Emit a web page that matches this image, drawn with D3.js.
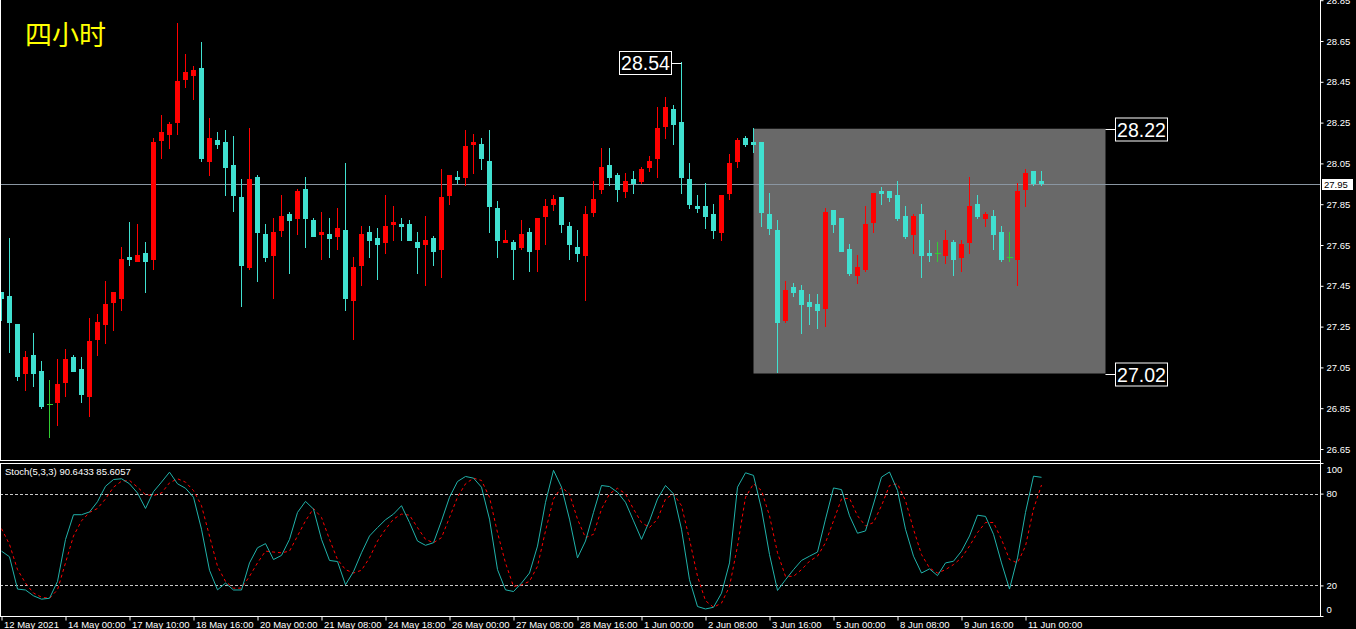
<!DOCTYPE html>
<html><head><meta charset="utf-8">
<script src="https://cdn.jsdelivr.net/npm/d3@7"></script>
<style>body{margin:0;background:#000;overflow:hidden}svg{display:block}</style>
</head><body>
<svg id="c" width="1356" height="629"></svg>
<script>
// ---- DATA ----
const opens = [27.420,27.400,27.263,27.019,27.111,27.032,26.869,26.877,26.975,27.101,
27.042,26.906,27.186,27.259,27.367,27.387,27.591,27.568,27.611,27.578,
28.161,28.191,28.250,28.460,28.480,28.518,28.058,28.165,28.155,28.042,
27.885,27.539,27.983,27.704,27.598,27.720,27.802,27.779,27.925,27.773,
27.701,27.704,27.691,27.724,27.377,27.549,27.714,27.684,27.661,27.750,
27.753,27.753,27.665,27.652,27.684,27.627,27.892,27.983,27.980,28.142,
28.145,28.062,27.831,27.662,27.665,27.635,27.714,27.626,27.787,27.846,
27.885,27.743,27.640,27.596,27.807,27.920,28.042,27.993,27.910,27.974,
27.959,28.028,28.072,28.229,28.317,28.253,27.974,27.841,27.841,27.802,
27.709,27.900,28.057,28.175,28.155,28.155,27.802,27.724,27.279,27.444,
27.429,27.371,27.361,27.336,27.822,27.782,27.630,27.500,27.529,27.759,
27.915,27.915,27.895,27.792,27.701,27.802,27.611,27.609,27.598,27.665,
27.588,27.661,27.851,27.779,27.792,27.714,27.591,27.578,27.921,28.013,27.964];
const highs = [27.420,27.684,27.263,27.130,27.220,27.081,26.988,27.091,27.140,27.111,
27.101,27.292,27.312,27.474,27.420,27.640,27.763,27.753,27.665,28.175,
28.287,28.253,28.738,28.586,28.527,28.645,28.273,28.204,28.214,28.184,
27.974,28.224,27.993,27.753,27.782,27.895,27.812,27.925,27.983,27.782,
27.812,27.782,27.831,28.052,27.591,27.743,27.743,27.733,27.895,27.841,
27.782,27.773,27.714,27.792,27.694,28.023,27.993,28.013,28.214,28.194,
28.175,28.214,27.866,27.724,27.675,27.773,27.733,27.782,27.876,27.895,
27.885,27.763,27.724,27.841,27.964,28.126,28.126,28.003,28.003,28.013,
28.032,28.086,28.326,28.376,28.336,28.546,28.052,27.895,27.954,27.851,
27.895,28.096,28.175,28.184,28.224,28.155,27.905,27.773,27.474,27.464,
27.454,27.410,27.410,27.831,27.822,27.782,27.655,27.601,27.841,27.905,
27.934,27.915,27.964,27.841,27.802,27.851,27.675,27.665,27.724,27.675,
27.675,27.983,27.895,27.812,27.822,27.743,27.714,27.954,28.023,28.013,28.013];
const lows = [27.279,27.119,26.985,26.936,26.955,26.848,26.705,26.764,26.906,27.029,
26.877,26.808,27.107,27.166,27.230,27.328,27.549,27.568,27.416,27.529,
28.073,28.122,28.191,28.421,28.362,28.058,27.990,28.122,27.892,27.810,
27.348,27.529,27.470,27.568,27.387,27.691,27.509,27.701,27.637,27.691,
27.578,27.588,27.627,27.328,27.186,27.451,27.588,27.480,27.607,27.671,
27.671,27.671,27.509,27.451,27.549,27.490,27.848,27.951,27.941,28.000,
28.020,27.710,27.588,27.662,27.478,27.626,27.518,27.518,27.650,27.817,
27.709,27.576,27.567,27.375,27.787,27.900,27.939,27.861,27.880,27.900,
27.949,28.008,27.978,28.171,28.140,27.900,27.826,27.807,27.729,27.680,
27.670,27.871,28.028,28.130,28.101,27.740,27.701,27.021,27.269,27.395,
27.214,27.258,27.238,27.248,27.710,27.617,27.500,27.460,27.519,27.710,
27.848,27.862,27.769,27.681,27.607,27.490,27.568,27.568,27.558,27.500,
27.519,27.607,27.779,27.740,27.627,27.568,27.568,27.451,27.838,27.941,27.941];
const closes = [27.387,27.269,27.004,27.101,27.019,26.857,26.869,26.969,27.091,27.029,
26.916,27.179,27.273,27.361,27.420,27.581,27.578,27.601,27.568,28.155,
28.204,28.243,28.454,28.498,28.508,28.073,28.175,28.142,28.029,27.892,
27.549,27.974,27.710,27.588,27.714,27.792,27.769,27.915,27.779,27.691,
27.714,27.681,27.733,27.387,27.542,27.704,27.671,27.652,27.743,27.763,
27.740,27.671,27.637,27.675,27.617,27.885,27.993,27.970,28.135,28.155,
28.073,27.838,27.671,27.675,27.626,27.704,27.616,27.782,27.841,27.876,
27.748,27.650,27.606,27.802,27.876,28.032,27.978,27.920,27.964,27.949,
28.023,28.062,28.224,28.326,28.239,27.978,27.846,27.826,27.787,27.719,
27.895,28.052,28.165,28.140,28.140,27.808,27.730,27.269,27.429,27.415,
27.356,27.346,27.327,27.812,27.750,27.617,27.509,27.542,27.753,27.905,
27.901,27.882,27.779,27.691,27.792,27.598,27.598,27.609,27.675,27.578,
27.655,27.841,27.789,27.802,27.701,27.578,27.591,27.915,28.003,27.951,27.951];

const stochK = [42.4,38.7,17.6,17,13.2,11,11.6,22.6,50,66.2,
66.2,68,74.7,84.8,89.2,89.7,86.4,80.4,70.3,81.3,
87.5,94,86.4,83.5,77.6,56.7,29.9,17.1,21.5,17,
17,34.7,44.6,47.3,36.9,39.6,50.1,67.7,74.9,69.9,
50.1,36.3,35.6,20.4,29,41.3,52.3,57.8,62.9,66.6,
72.1,61.1,49,46.2,47.9,62.2,77.6,87.9,91.2,90.1,
84.2,63.3,30.3,17.1,16,21.5,28.1,45.7,74.3,95.2,
84.2,63.3,38,49,67.7,85.3,84.6,80.9,74.3,62.2,
50.1,62.2,76.5,85.3,79.8,56.7,23.7,6.2,4.6,5.7,
14.9,34.7,84.2,93.6,91.9,69.9,40.2,16.7,23.7,30.3,
36.3,39.1,41.8,63.3,83.7,82.6,65.5,54.1,55.6,73.2,
90.8,94.1,82,56.7,39.1,28.1,30.8,26.4,34.7,35.8,
42.4,52.3,65.9,65.1,53.4,34.7,17.6,38,67.7,91.4,90.6433];
const stochD = [57.1,46.8,30.3,21.5,15,12.3,11.6,17.1,34.7,52.3,
62.2,67.7,70.3,76.5,84.2,88.1,88.6,84.2,79.3,78.7,
80.4,87,89.7,87.5,82,72.1,52.3,32.5,22.6,18.2,
18.2,25.9,34.7,42.4,41.8,41.3,42.4,52.3,62.2,70.3,
64.4,50.1,36.9,30.3,28.1,29.9,38,49,56.7,63.3,
66.6,65.9,57.8,50.1,47.9,51.2,64.4,77.6,86.4,90.1,
88.6,77.6,54.5,34.7,19.3,20.4,22.6,32.5,55.6,76.5,
84.2,79.8,63.3,51.2,53.4,69.9,79.8,83.5,79.8,69.9,
61.1,57.8,63.3,76.5,79.8,72.1,50.1,25.9,10,5.7,
8.4,19.3,45.7,77.6,86.4,82,65.5,41.3,25.9,25.9,
30.3,35.8,39.1,47.9,62.2,76.5,76.9,65.5,58.9,61.1,
72.1,85.3,86.4,75.4,56.7,40.2,31.4,28.1,30.3,33.6,
38,45.7,54.5,61.1,61.1,50.1,36.9,34.7,45.7,69.9,85.6057];

const priceTicks = [26.65,26.85,27.05,27.25,27.45,27.65,27.85,28.05,28.25,28.45,28.65,28.85];
const stochTicks = [0,20,80,100];
const stochLevels = [20,80];
const timeTickBars = [0,8,16,24,32,40,48,56,64,72,80,88,96,104,112,120,128];
const timeTickLabels = ["12 May 2021","14 May 00:00","17 May 10:00","18 May 16:00","20 May 00:00",
"21 May 08:00","24 May 18:00","26 May 00:00","27 May 08:00","28 May 16:00","1 Jun 00:00",
"2 Jun 08:00","3 Jun 16:00","5 Jun 00:00","8 Jun 08:00","9 Jun 16:00","11 Jun 00:00"];
const boxTop = 28.22, boxBottom = 27.02, boxStartBar = 94, boxEndBar = 138;
const peakBar = 85, peakPrice = 28.54;
const lastPrice = 27.95;
const titleText = "四小时";
const stochTitle = "Stoch(5,3,3) 90.6433 85.6057";

// ---- CHART ----
const svg = d3.select("#c");
const FONT = "Liberation Sans, Arial, sans-serif";
const AX = 1320;
const x = d3.scaleLinear().domain([0, 130]).range([1.5, 1041.5]);
const y = d3.scaleLinear().domain([26.65, 28.65]).range([449, 41]);
const yS = d3.scaleLinear().domain([0, 100]).range([616, 463]);
const BULL = "#ff0000", BEAR = "#40e0d0", DOJI = "#32cd32";

svg.append("rect").attr("width",1356).attr("height",629).attr("fill","#000");

const defs = svg.append("defs");
defs.append("clipPath").attr("id","mainClip").append("rect").attr("x",0).attr("y",0).attr("width",AX).attr("height",460);
defs.append("clipPath").attr("id","stClip").append("rect").attr("x",0).attr("y",463).attr("width",AX).attr("height",153);

const main = svg.append("g").attr("clip-path","url(#mainClip)");

// gray rectangle
main.append("rect")
  .attr("x", x(boxStartBar)).attr("y", y(boxTop))
  .attr("width", x(boxEndBar) - x(boxStartBar)).attr("height", y(boxBottom) - y(boxTop))
  .attr("fill", "#696969");

// current price line
main.append("line").attr("x1",0).attr("x2",AX).attr("y1",Math.round(y(lastPrice))+0.5).attr("y2",Math.round(y(lastPrice))+0.5)
  .attr("stroke","#8a96a2").attr("stroke-width",1);

// candles
const bars = d3.range(opens.length).map(i => ({i, o:opens[i], h:highs[i], l:lows[i], c:closes[i]}));
const cg = main.append("g").attr("shape-rendering","crispEdges");
const col = d => d.c > d.o ? BULL : (d.c < d.o ? BEAR : DOJI);
cg.selectAll("line.w").data(bars).join("line").attr("class","w")
  .attr("x1", d => x(d.i)).attr("x2", d => x(d.i))
  .attr("y1", d => y(d.h)).attr("y2", d => y(d.l))
  .attr("stroke", col).attr("stroke-width",1);
cg.selectAll("rect.b").data(bars.filter(d => d.c !== d.o)).join("rect").attr("class","b")
  .attr("x", d => x(d.i) - 2.5).attr("width", 5)
  .attr("y", d => y(Math.max(d.o,d.c)))
  .attr("height", d => Math.max(1, y(Math.min(d.o,d.c)) - y(Math.max(d.o,d.c))))
  .attr("fill", col);
cg.selectAll("line.d").data(bars.filter(d => d.c === d.o)).join("line").attr("class","d")
  .attr("x1", d => x(d.i) - 3).attr("x2", d => x(d.i) + 3)
  .attr("y1", d => y(d.o)).attr("y2", d => y(d.o))
  .attr("stroke", DOJI).attr("stroke-width",1);

// title
svg.append("text").attr("x",25).attr("y",45).attr("fill","#ffff00")
  .attr("font-family","Noto Sans CJK SC").attr("font-size",27).text(titleText);

// big price labels
function bigLabel(bx, by, txt){
  const g = svg.append("g");
  g.append("rect").attr("x",bx+0.5).attr("y",by+0.5).attr("width",52).attr("height",23)
    .attr("fill","#000").attr("stroke","#fff").attr("stroke-width",1);
  g.append("text").attr("x",bx+26.5).attr("y",by+19).attr("text-anchor","middle")
    .attr("fill","#fff").attr("font-family",FONT).attr("font-size",19.5).text(txt);
}
// peak label
{
  const py = Math.round(y(peakPrice)) + 0.5;
  svg.append("line").attr("x1", x(peakBar) - 10).attr("x2", x(peakBar)).attr("y1", py).attr("y2", py).attr("stroke","#fff");
  bigLabel(x(peakBar) - 62.5, py - 12.5, peakPrice.toFixed(2));
}
// box labels
[boxTop, boxBottom].forEach(p => {
  const py = Math.round(y(p)) + 0.5;
  svg.append("line").attr("x1", x(boxEndBar)).attr("x2", x(boxEndBar) + 10).attr("y1", py).attr("y2", py).attr("stroke","#fff");
  bigLabel(x(boxEndBar) + 9.5, py - 12, p.toFixed(2));
});

// stochastic panel
const st = svg.append("g").attr("clip-path","url(#stClip)");
st.selectAll("line.lv").data(stochLevels).join("line").attr("class","lv")
  .attr("x1",0).attr("x2",AX).attr("y1", d => Math.round(yS(d))+0.5).attr("y2", d => Math.round(yS(d))+0.5)
  .attr("stroke","#c8c8c8").attr("stroke-dasharray","3,2");
const lineGen = d3.line().x((d,i) => x(i)).y(d => yS(d));
st.append("path").datum(stochD).attr("d", lineGen).attr("fill","none")
  .attr("stroke","#ff0000").attr("stroke-width",1).attr("stroke-dasharray","3,3");
st.append("path").datum(stochK).attr("d", lineGen).attr("fill","none")
  .attr("stroke","#20b2aa").attr("stroke-width",1);
svg.append("text").attr("x",5).attr("y",475).attr("fill","#fff").attr("font-family",FONT)
  .attr("font-size",9.5).text(stochTitle);

// frames
const fr = svg.append("g").attr("fill","none").attr("stroke","#fff").attr("shape-rendering","crispEdges");
fr.append("rect").attr("x",0.5).attr("y",-2).attr("width",AX-0.5).attr("height",462.5);
fr.append("rect").attr("x",0.5).attr("y",463.5).attr("width",AX-0.5).attr("height",152.5);

// right price axis
const pa = svg.append("g").attr("transform",`translate(${AX+0.5},0)`)
  .call(d3.axisRight(y).tickValues(priceTicks).tickSize(3).tickPadding(3).tickFormat(d3.format(".2f")));
pa.select(".domain").remove();
pa.selectAll("line").attr("stroke","#fff");
pa.selectAll("text").attr("fill","#fff").attr("font-family",FONT).attr("font-size",9.5);

// current price tag
{
  const py = y(lastPrice);
  svg.append("rect").attr("x",1322).attr("y",Math.round(py)-5).attr("width",31).attr("height",11).attr("fill","#fff");
  svg.append("text").attr("x",1324).attr("y",Math.round(py)+4).attr("fill","#000")
    .attr("font-family",FONT).attr("font-size",9.5).text(lastPrice.toFixed(2));
}

// stoch axis
const sa = svg.append("g").attr("transform",`translate(${AX+0.5},0)`)
  .call(d3.axisRight(yS).tickValues(stochTicks).tickSize(3).tickPadding(3));
sa.select(".domain").remove();
sa.selectAll("line").attr("stroke","#fff");
sa.selectAll("text").attr("fill","#fff").attr("font-family",FONT).attr("font-size",9.5)
  .attr("dy", d => d === 100 ? "1.0em" : (d === 0 ? "-0.35em" : "0.32em"));

// time axis
const ta = svg.append("g").attr("transform","translate(0,616.5)")
  .call(d3.axisBottom(x).tickValues(timeTickBars).tickSize(4).tickFormat((d,i) => timeTickLabels[i]));
ta.select(".domain").attr("stroke","#fff").attr("d", `M0.5,0H${AX}`);
ta.selectAll("line").attr("stroke","#fff");
ta.selectAll("text").attr("fill","#fff").attr("font-family",FONT).attr("font-size",9.5)
  .attr("text-anchor","start").attr("x",2).attr("y",11.5).attr("dy",0);
svg.append("line").attr("x1",AX+0.5).attr("x2",AX+0.5).attr("y1",0).attr("y2",617).attr("stroke","#fff");
</script>
</body></html>
